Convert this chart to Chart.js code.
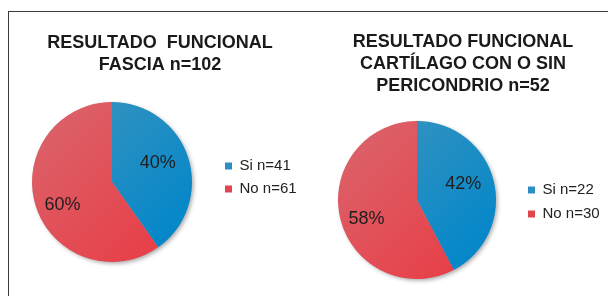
<!DOCTYPE html>
<html>
<head>
<meta charset="utf-8">
<script src="https://cdn.jsdelivr.net/npm/chart.js@4.4.0/dist/chart.umd.min.js"></script>
<style>
  html, body { margin: 0; padding: 0; background: #fff; width: 608px; height: 296px; overflow: hidden; }
  canvas { position: absolute; top: 0; }
  #fascia { left: 0; }
  #cartilago { left: 304px; }
  .frame { position: absolute; left: 8px; top: 11px; width: 600px; height: 285px;
           border-top: 1px solid #3a3a3a; border-left: 1px solid #3a3a3a; pointer-events: none; }
</style>
</head>
<body>
<canvas id="fascia" width="313" height="296"></canvas>
<canvas id="cartilago" width="307" height="296"></canvas>
<div class="frame"></div>
<script>
// Fascia chart
const fasciaTitle = ['RESULTADO  FUNCIONAL', 'FASCIA n=102'];
const fasciaLabels = ['Si', 'No'];
const fasciaValues = [41, 61];

// Cartilage chart
const cartTitle = ['RESULTADO FUNCIONAL', 'CARTÍLAGO CON O SIN', 'PERICONDRIO n=52'];
const cartLabels = ['Si', 'No'];
const cartValues = [22, 30];

const FONT = "'Liberation Sans', Arial, sans-serif";
const legendColors = ['#2b8fc4', '#e0464e'];
const sliceStops = [
  ['#3693bf', '#0487c9'],
  ['#dc5f67', '#e83f48']
];

// light to dark diagonal shading, like the office pie
function sliceFill(context) {
  const stops = sliceStops[context.dataIndex];
  const area = context.chart.chartArea;
  if (!area) return stops[0];
  const cx = (area.left + area.right) / 2;
  const cy = (area.top + area.bottom) / 2;
  const r = Math.min(area.width, area.height) / 2;
  const g = context.chart.ctx.createLinearGradient(cx - r * 0.7, cy - r * 0.7, cx + r * 0.7, cy + r * 0.7);
  g.addColorStop(0, stops[0]);
  g.addColorStop(1, stops[1]);
  return g;
}

// soft drop shadow under the whole pie
const pieShadow = {
  id: 'pieShadow',
  beforeDatasetsDraw(chart) {
    const arc = chart.getDatasetMeta(0).data[0];
    if (!arc) return;
    const { x, y, outerRadius } = arc.getProps(['x', 'y', 'outerRadius'], true);
    const ctx = chart.ctx;
    ctx.save();
    ctx.shadowColor = 'rgba(0, 0, 0, 0.35)';
    ctx.shadowBlur = 4;
    ctx.shadowOffsetX = 2;
    ctx.shadowOffsetY = 2;
    ctx.beginPath();
    ctx.arc(x, y, outerRadius - 0.5, 0, Math.PI * 2);
    ctx.fillStyle = '#999';
    ctx.fill();
    ctx.restore();
  }
};

// percentage text inside each slice
const pctLabels = {
  id: 'pctLabels',
  afterDatasetsDraw(chart, args, opts) {
    const meta = chart.getDatasetMeta(0);
    const values = chart.data.datasets[0].data;
    const total = values.reduce((a, b) => a + b, 0);
    const ctx = chart.ctx;
    ctx.save();
    ctx.font = opts.font;
    ctx.fillStyle = opts.color;
    ctx.textAlign = 'center';
    ctx.textBaseline = 'middle';
    meta.data.forEach((arc, i) => {
      const p = arc.getProps(['x', 'y', 'startAngle', 'endAngle', 'outerRadius'], true);
      const a = p.startAngle + (p.endAngle - p.startAngle) * opts.angle;
      const r = p.outerRadius * opts.offsets[i];
      ctx.fillText(Math.round(values[i] / total * 100) + '%', p.x + Math.cos(a) * r, p.y + Math.sin(a) * r);
    });
    ctx.restore();
  }
};

// fixed legend width and a small vertical nudge
const legendFit = {
  id: 'legendFit',
  afterInit(chart, args, opts) {
    const legend = chart.legend;
    if (!legend) return;
    const fit = legend.fit;
    legend.fit = function () {
      fit.call(this);
      this.width = opts.width;
      if (this.columnSizes && this.columnSizes[0]) {
        this.columnSizes[0].height -= 2 * opts.shift;
      }
    };
  }
};

function makePie(id, title, labels, values, cfg) {
  return new Chart(document.getElementById(id), {
    type: 'pie',
    data: {
      labels: labels,
      datasets: [{
        data: values,
        backgroundColor: sliceFill,
        borderWidth: 0,
        hoverOffset: 0
      }]
    },
    options: {
      responsive: false,
      animation: false,
      events: [],
      layout: { padding: cfg.padding },
      plugins: {
        title: {
          display: true,
          text: title,
          color: '#1a1a1a',
          font: { family: FONT, size: 18, weight: 'bold', lineHeight: 22 / 18 },
          padding: cfg.titlePadding
        },
        legend: {
          position: 'right',
          fullSize: false,
          labels: {
            color: '#222',
            font: { family: FONT, size: 15 },
            boxWidth: 7,
            boxHeight: 7,
            padding: cfg.legendPadding,
            generateLabels: (chart) => chart.data.labels.map((l, i) => ({
              text: l + ' n=' + chart.data.datasets[0].data[i],
              fillStyle: legendColors[i],
              strokeStyle: legendColors[i],
              lineWidth: 0,
              fontColor: '#222',
              hidden: false,
              index: i
            }))
          }
        },
        tooltip: { enabled: false },
        legendFit: { width: cfg.legendWidth, shift: cfg.legendShift },
        pctLabels: { font: '18px ' + FONT, color: '#1e1e1e', angle: 0.465, offsets: [0.62, 0.685] }
      }
    },
    plugins: [pieShadow, pctLabels, legendFit]
  });
}

makePie('fascia', fasciaTitle, fasciaLabels, fasciaValues, {
  padding: { left: 7, right: 0, top: 0, bottom: 34 },
  titlePadding: { top: 32, bottom: 26 },
  legendPadding: 8,
  legendWidth: 96,
  legendShift: -4.5
});

makePie('cartilago', cartTitle, cartLabels, cartValues, {
  padding: { left: 11, right: 0, top: 0, bottom: 17 },
  titlePadding: { top: 31, bottom: 24 },
  legendPadding: 9,
  legendWidth: 92,
  legendShift: 2
});
</script>
</body>
</html>
